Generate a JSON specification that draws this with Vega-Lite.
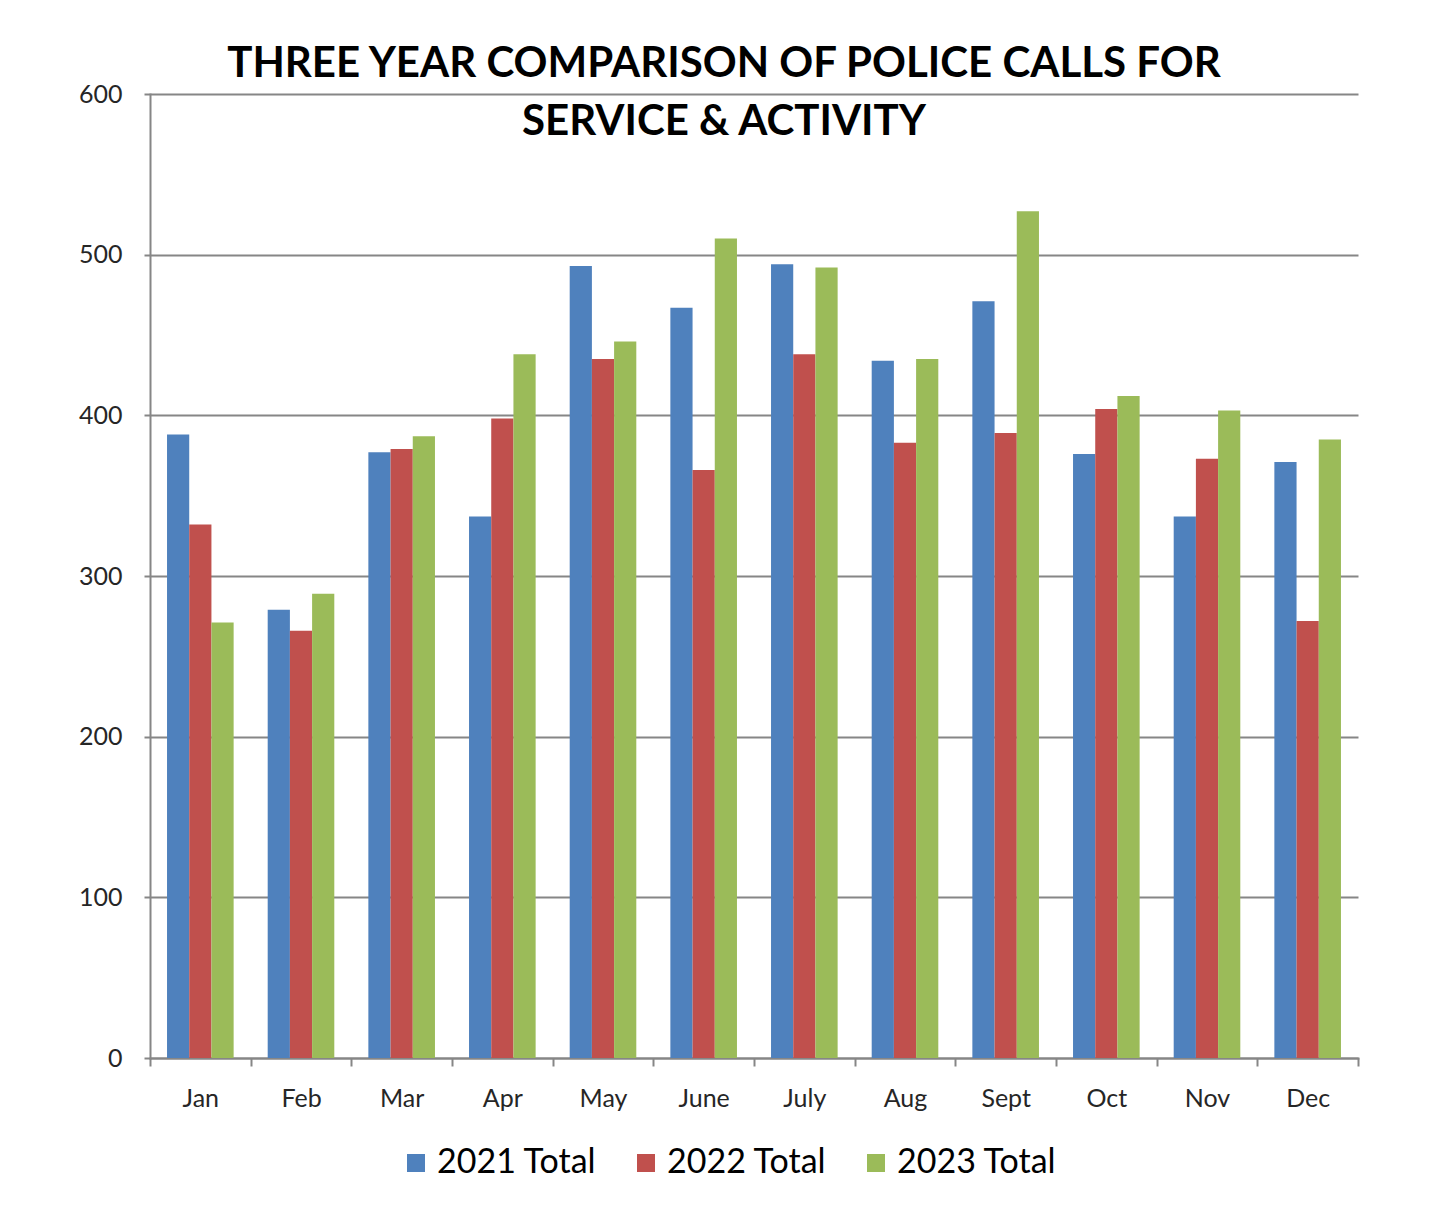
{
  "$schema": "https://vega.github.io/schema/vega-lite/v6.json",
  "width": 1208,
  "height": 964,
  "autosize": {"type": "none"},
  "padding": {"left": 150, "top": 94, "right": 89, "bottom": 153},
  "background": "white",
  "title": {
    "text": ["THREE YEAR COMPARISON OF POLICE CALLS FOR", "SERVICE & ACTIVITY"],
    "anchor": "middle",
    "frame": "group",
    "dx": -30,
    "dy": 62,
    "font": "Lato",
    "fontSize": 42,
    "fontWeight": "bold",
    "color": "#000000",
    "lineHeight": 58,
    "baseline": "top",
    "offset": 0
  },
  "data": {
    "values": [
      {"month": "Jan", "series": "2021 Total", "calls": 388},
      {"month": "Jan", "series": "2022 Total", "calls": 332},
      {"month": "Jan", "series": "2023 Total", "calls": 271},
      {"month": "Feb", "series": "2021 Total", "calls": 279},
      {"month": "Feb", "series": "2022 Total", "calls": 266},
      {"month": "Feb", "series": "2023 Total", "calls": 289},
      {"month": "Mar", "series": "2021 Total", "calls": 377},
      {"month": "Mar", "series": "2022 Total", "calls": 379},
      {"month": "Mar", "series": "2023 Total", "calls": 387},
      {"month": "Apr", "series": "2021 Total", "calls": 337},
      {"month": "Apr", "series": "2022 Total", "calls": 398},
      {"month": "Apr", "series": "2023 Total", "calls": 438},
      {"month": "May", "series": "2021 Total", "calls": 493},
      {"month": "May", "series": "2022 Total", "calls": 435},
      {"month": "May", "series": "2023 Total", "calls": 446},
      {"month": "June", "series": "2021 Total", "calls": 467},
      {"month": "June", "series": "2022 Total", "calls": 366},
      {"month": "June", "series": "2023 Total", "calls": 510},
      {"month": "July", "series": "2021 Total", "calls": 494},
      {"month": "July", "series": "2022 Total", "calls": 438},
      {"month": "July", "series": "2023 Total", "calls": 492},
      {"month": "Aug", "series": "2021 Total", "calls": 434},
      {"month": "Aug", "series": "2022 Total", "calls": 383},
      {"month": "Aug", "series": "2023 Total", "calls": 435},
      {"month": "Sept", "series": "2021 Total", "calls": 471},
      {"month": "Sept", "series": "2022 Total", "calls": 389},
      {"month": "Sept", "series": "2023 Total", "calls": 527},
      {"month": "Oct", "series": "2021 Total", "calls": 376},
      {"month": "Oct", "series": "2022 Total", "calls": 404},
      {"month": "Oct", "series": "2023 Total", "calls": 412},
      {"month": "Nov", "series": "2021 Total", "calls": 337},
      {"month": "Nov", "series": "2022 Total", "calls": 373},
      {"month": "Nov", "series": "2023 Total", "calls": 403},
      {"month": "Dec", "series": "2021 Total", "calls": 371},
      {"month": "Dec", "series": "2022 Total", "calls": 272},
      {"month": "Dec", "series": "2023 Total", "calls": 385}
    ]
  },
  "mark": {"type": "bar", "width": {"band": 1}},
  "encoding": {
    "x": {
      "field": "month",
      "type": "nominal",
      "sort": ["Jan", "Feb", "Mar", "Apr", "May", "June", "July", "Aug", "Sept", "Oct", "Nov", "Dec"],
      "scale": {"paddingInner": 0, "paddingOuter": 0},
      "axis": {
        "title": null,
        "labelAngle": 0,
        "tickBand": "extent",
        "tickSize": 8,
        "tickWidth": 2,
        "tickColor": "#868686",
        "domainColor": "#868686",
        "domainWidth": 2,
        "labelFont": "Lato",
        "labelFontSize": 25,
        "labelColor": "#262626",
        "labelPadding": 20,
        "grid": false
      }
    },
    "xOffset": {
      "field": "series",
      "type": "nominal",
      "scale": {"paddingInner": 0, "paddingOuter": 0.767}
    },
    "y": {
      "field": "calls",
      "type": "quantitative",
      "scale": {"domain": [0, 600], "nice": false},
      "axis": {
        "title": null,
        "values": [0, 100, 200, 300, 400, 500, 600],
        "tickSize": 6,
        "tickWidth": 2,
        "tickColor": "#868686",
        "domainColor": "#868686",
        "domainWidth": 2,
        "gridColor": "#868686",
        "gridWidth": 2,
        "gridOpacity": 1,
        "labelFont": "Lato",
        "labelFontSize": 25,
        "labelColor": "#262626",
        "labelPadding": 22
      }
    },
    "color": {
      "field": "series",
      "type": "nominal",
      "scale": {
        "domain": ["2021 Total", "2022 Total", "2023 Total"],
        "range": ["#4F81BD", "#C0504D", "#9BBB59"]
      },
      "legend": {
        "title": null,
        "orient": "none",
        "direction": "horizontal",
        "legendX": 249,
        "legendY": 1052,
        "symbolType": "square",
        "symbolSize": 324,
        "symbolStrokeWidth": 0,
        "symbolOpacity": 1,
        "labelFont": "Lato",
        "labelFontSize": 34,
        "labelColor": "#000000",
        "labelOffset": 4,
        "columnPadding": 32,
        "labelLimit": 400
      }
    }
  },
  "config": {
    "view": {"stroke": null},
    "axis": {"domainCap": "square"}
  }
}
